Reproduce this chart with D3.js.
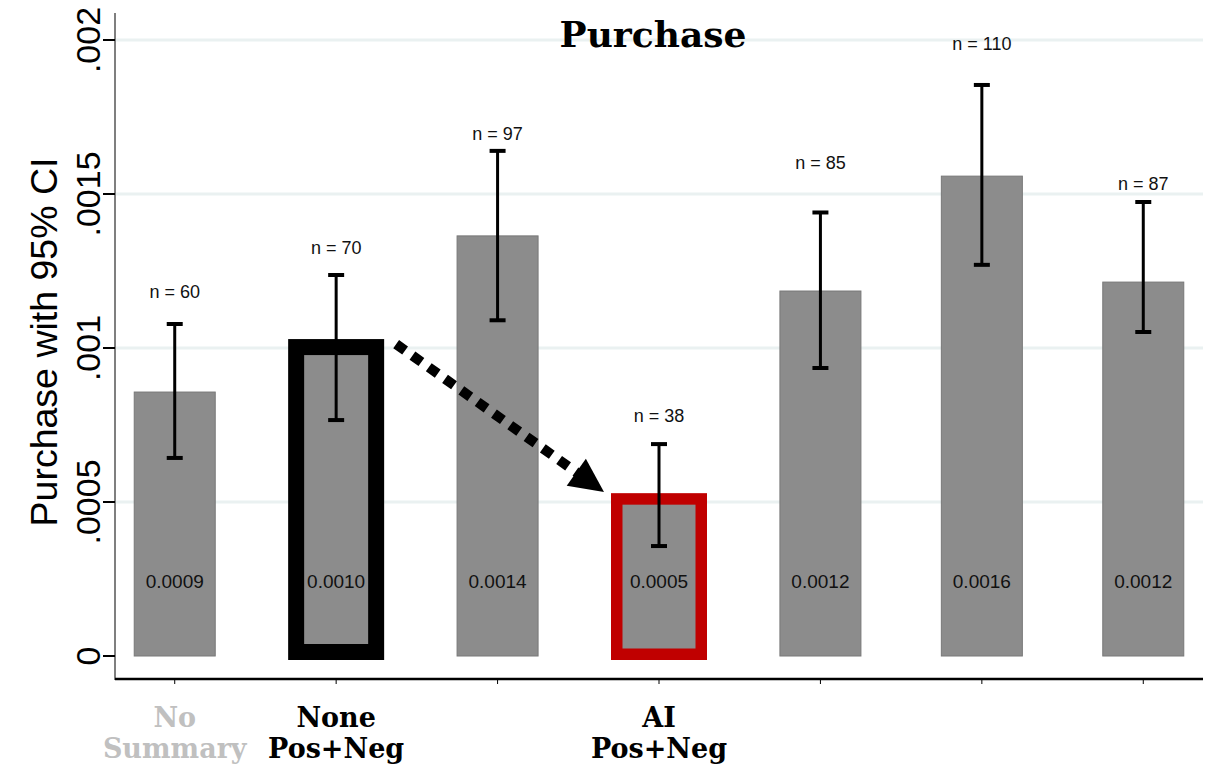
<!DOCTYPE html>
<html>
<head>
<meta charset="utf-8">
<script src="https://cdn.jsdelivr.net/npm/d3@7"></script>
<style>
  body { margin: 0; background: #fff; }
  svg { display: block; }
</style>
</head>
<body>
<svg id="chart" width="1211" height="775"></svg>
<script>
// Data
const groups = ["g1", "g2", "g3", "g4", "g5", "g6", "g7"];
const means = [0.000857, 0.001003, 0.001364, 0.00051, 0.001185, 0.001558, 0.001214];
const ciLow = [0.000643, 0.000766, 0.00109, 0.000357, 0.000935, 0.00127, 0.001052];
const ciHigh = [0.001078, 0.001237, 0.00164, 0.000688, 0.00144, 0.001854, 0.001474];
const nCounts = [60, 70, 97, 38, 85, 110, 87];
// where the "n =" labels sit, in data units
const nLabelAt = [0.001182, 0.001325, 0.001695, 0.000779, 0.0016, 0.001987, 0.001532];
const valueLabels = ["0.0009", "0.0010", "0.0014", "0.0005", "0.0012", "0.0016", "0.0012"];
const yTicks = [0, 0.0005, 0.001, 0.0015, 0.002];
const yTickLabels = ["0", ".0005", ".001", ".0015", ".002"];
const xLabels = [
  { i: 0, lines: ["No", "Summary"], color: "#c0c0c0" },
  { i: 1, lines: ["None", "Pos+Neg"], color: "#000" },
  { i: 3, lines: ["AI", "Pos+Neg"], color: "#000" }
];
// highlighted bars: index -> outline colour
const highlights = [{ i: 1, color: "#000", width: 16 }, { i: 3, color: "#c00000", width: 11.5 }];

const svg = d3.select("#chart");
const left = 115, right = 1203;

// Scales
const x = d3.scalePoint().domain(groups).range([left, right]).padding(0.37);
const y = d3.scaleLinear().domain([0, 0.002]).range([656, 40]);
const bw = 81;

// Grid lines
svg.selectAll(".grid")
  .data(yTicks.filter((d) => d > 0))
  .enter()
  .append("line")
  .attr("x1", left)
  .attr("x2", right)
  .attr("y1", (d) => y(d))
  .attr("y2", (d) => y(d))
  .attr("stroke", "#eaf1f1")
  .attr("stroke-width", 3);

// Y axis
svg.append("line")
  .attr("x1", left).attr("x2", left)
  .attr("y1", 13).attr("y2", 680)
  .attr("stroke", "#7f7f7f").attr("stroke-width", 2);

svg.selectAll(".ytick")
  .data(yTicks)
  .enter()
  .append("line")
  .attr("x1", 103).attr("x2", left)
  .attr("y1", (d) => y(d)).attr("y2", (d) => y(d))
  .attr("stroke", "#000").attr("stroke-width", 2);

svg.selectAll(".ylab")
  .data(yTicks)
  .enter()
  .append("text")
  .attr("transform", (d) => `translate(100,${y(d)}) rotate(-90)`)
  .attr("text-anchor", "middle")
  .style("font-family", "'Liberation Sans', Arial, sans-serif")
  .style("font-size", "34px")
  .text((d, i) => yTickLabels[i]);

svg.append("text")
  .attr("transform", `translate(57,${y(0.001) - 6}) rotate(-90)`)
  .attr("text-anchor", "middle")
  .style("font-family", "'Liberation Sans', Arial, sans-serif")
  .style("font-size", "37.5px")
  .text("Purchase with 95% CI");

// Bottom axis
svg.append("line")
  .attr("x1", left).attr("x2", right)
  .attr("y1", 679).attr("y2", 679)
  .attr("stroke", "#000").attr("stroke-width", 2.5);

svg.selectAll(".xtick")
  .data(groups)
  .enter()
  .append("line")
  .attr("x1", (d) => x(d)).attr("x2", (d) => x(d))
  .attr("y1", 679).attr("y2", 684)
  .attr("stroke", "#000").attr("stroke-width", 1);

// Bars
svg.selectAll(".bar")
  .data(groups)
  .enter()
  .append("rect")
  .attr("x", (d) => x(d) - bw / 2)
  .attr("width", bw)
  .attr("y", (d, i) => y(means[i]))
  .attr("height", (d, i) => y(0) - y(means[i]))
  .attr("fill", "#8c8c8c")
  .attr("stroke", "#787878")
  .attr("stroke-width", 1);

// Highlight outlines
svg.selectAll(".hl")
  .data(highlights)
  .enter()
  .append("rect")
  .attr("x", (d) => x(groups[d.i]) - 48 + d.width / 2)
  .attr("width", (d) => 96 - d.width)
  .attr("y", (d) => y(means[d.i]))
  .attr("height", (d) => y(0) + 4 - d.width / 2 - y(means[d.i]))
  .attr("fill", "none")
  .attr("stroke", (d) => d.color)
  .attr("stroke-width", (d) => d.width);

// Error bars
const eb = svg.selectAll(".eb").data(groups).enter().append("g");
eb.append("line")
  .attr("x1", (d) => x(d)).attr("x2", (d) => x(d))
  .attr("y1", (d, i) => y(ciLow[i])).attr("y2", (d, i) => y(ciHigh[i]))
  .attr("stroke", "#000").attr("stroke-width", 3);
eb.append("line")
  .attr("x1", (d) => x(d) - 8).attr("x2", (d) => x(d) + 8)
  .attr("y1", (d, i) => y(ciLow[i])).attr("y2", (d, i) => y(ciLow[i]))
  .attr("stroke", "#000").attr("stroke-width", 4);
eb.append("line")
  .attr("x1", (d) => x(d) - 8).attr("x2", (d) => x(d) + 8)
  .attr("y1", (d, i) => y(ciHigh[i])).attr("y2", (d, i) => y(ciHigh[i]))
  .attr("stroke", "#000").attr("stroke-width", 4);

// n labels
svg.selectAll(".nlab")
  .data(groups)
  .enter()
  .append("text")
  .attr("x", (d) => x(d))
  .attr("y", (d, i) => y(nLabelAt[i]) + 6)
  .attr("text-anchor", "middle")
  .style("font-family", "'Liberation Sans', Arial, sans-serif")
  .style("font-size", "18px")
  .attr("fill", "#111")
  .text((d, i) => `n = ${nCounts[i]}`);

// value labels
svg.selectAll(".vlab")
  .data(groups)
  .enter()
  .append("text")
  .attr("x", (d) => x(d))
  .attr("y", y(0.00022))
  .attr("text-anchor", "middle")
  .style("font-family", "'Liberation Sans', Arial, sans-serif")
  .style("font-size", "19px")
  .attr("fill", "#111")
  .text((d, i) => valueLabels[i]);

// Dotted arrow from highlighted bar 2 to bar 4
const x0 = x(groups[1]) + 48 + 12, y0 = y(means[1]) - 3;
const x1 = x(groups[3]) - 48 - 7, y1 = y(means[3]) - 7;
const len = Math.hypot(x1 - x0, y1 - y0);
const ux = (x1 - x0) / len, uy = (y1 - y0) / len;
const headLen = 34, headW = 16.5;
const bx = x1 - ux * headLen, by = y1 - uy * headLen;

svg.append("line")
  .attr("x1", x0).attr("y1", y0)
  .attr("x2", bx + ux * 4).attr("y2", by + uy * 4)
  .attr("stroke", "#000")
  .attr("stroke-width", 10)
  .attr("stroke-dasharray", "11 9");

svg.append("path")
  .attr("d", d3.line()([
    [x1, y1],
    [bx - uy * headW, by + ux * headW],
    [bx + uy * headW, by - ux * headW]
  ]) + "Z")
  .attr("fill", "#000");

// Title
svg.append("text")
  .attr("x", 653)
  .attr("y", 47)
  .attr("text-anchor", "middle")
  .style("font-family", "'DejaVu Serif', serif")
  .style("font-weight", "bold")
  .style("font-size", "36px")
  .text("Purchase");

// X labels
const xl = svg.selectAll(".xlab")
  .data(xLabels)
  .enter()
  .append("text")
  .attr("text-anchor", "middle")
  .style("font-family", "'DejaVu Serif', serif")
  .style("font-weight", "bold")
  .style("font-size", "27px")
  .attr("fill", (d) => d.color);
xl.selectAll("tspan")
  .data((d) => d.lines.map((t) => ({ t: t, cx: x(groups[d.i]) })))
  .enter()
  .append("tspan")
  .attr("x", (d) => d.cx)
  .attr("y", (d, j) => 727 + j * 31)
  .text((d) => d.t);
</script>
</body>
</html>
